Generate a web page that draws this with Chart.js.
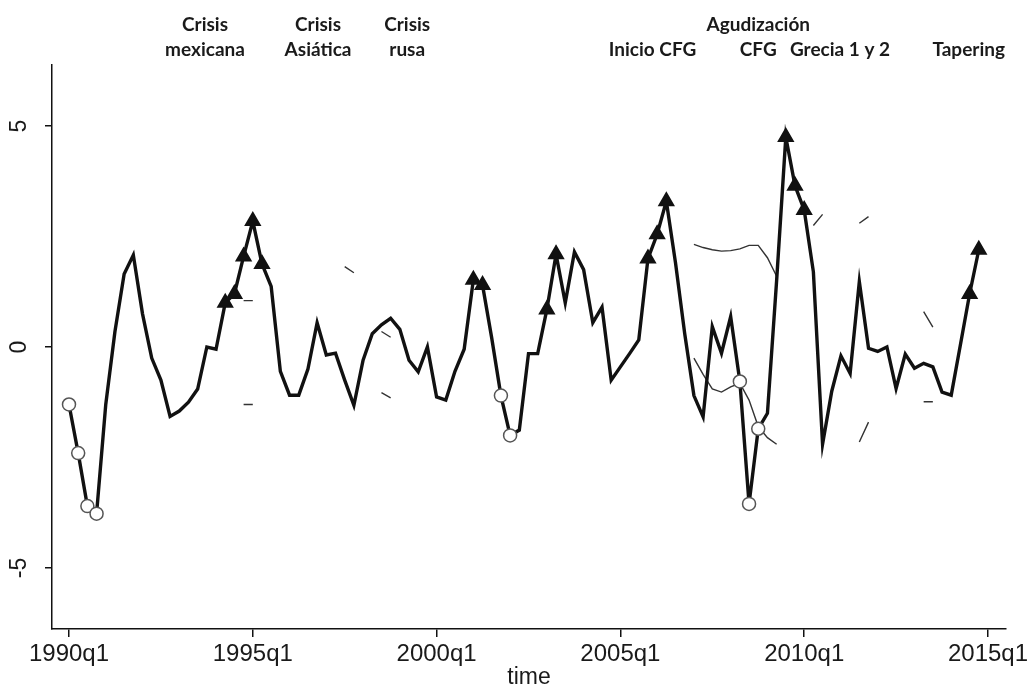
<!DOCTYPE html>
<html><head><meta charset="utf-8">
<script src="https://cdn.jsdelivr.net/npm/chart.js@4.4.1/dist/chart.umd.min.js"></script>
<style>html,body{margin:0;padding:0;background:#fff;}#wrap{width:1035px;height:688px;position:relative;}</style>
</head><body><div id="wrap"><canvas id="c" width="1035" height="688"></canvas></div>
<script>
// quarterly index: 0 = 1990q1
const values = [
 -1.3, -2.4, -3.6, -3.77, -1.3, 0.35, 1.65, 2.08, 0.75, -0.25,
 -0.75, -1.57, -1.45, -1.25, -0.95, 0.0, -0.05, 1.0, 1.2, 2.05,
 2.85, 1.88, 1.37, -0.55, -1.09, -1.09, -0.5, 0.55, -0.18, -0.14,
 -0.75, -1.32, -0.3, 0.3, 0.5, 0.65, 0.4, -0.3, -0.56, 0.0,
 -1.13, -1.2, -0.55, -0.05, 1.52, 1.4, 0.2, -1.1, -2.0, -1.88,
 -0.15, -0.15, 0.85, 2.1, 1.0, 2.15, 1.75, 0.55, 0.9, -0.75,
 -0.45, -0.15, 0.16, 2.0, 2.55, 3.3, 1.9, 0.3, -1.1, -1.58,
 0.46, -0.14, 0.69, -0.78, -3.55, -1.85, -1.5, 1.5, 4.75, 3.65,
 3.1, 1.7, -2.2, -1.0, -0.2, -0.6, 1.48, -0.03, -0.1, 0.0,
 -0.94, -0.16, -0.48, -0.37, -0.45, -1.02, -1.09, 0.05, 1.2, 2.2
];
const triangleIdx = [17,18,19,20,21,44,45,52,53,63,64,65,78,79,80,98,99];
const circleIdx = [0,1,2,3,47,48,73,74,75];
// visible fragments of the band lines: [start quarter index, values...]
const upperBandPieces = [
 [19, 1.05, 1.05],
 [30, 1.82, 1.68],
 [34, 0.35, 0.22],
 [68, 2.32, 2.25, 2.2, 2.17, 2.18, 2.22, 2.3, 2.3, 2.02, 1.6],
 [81, 2.75, 3.0],
 [86, 2.8, 2.95],
 [93, 0.8, 0.45]
];
const lowerBandPieces = [
 [19, -1.3, -1.3],
 [34, -1.03, -1.15],
 [68, -0.25, -0.62, -0.95, -1.02, -0.9, -0.82, -1.2, -1.8, -2.05, -2.2],
 [86, -2.15, -1.7],
 [93, -1.24, -1.24]
];
const xTickPos = [0, 20, 40, 60, 80, 100];
const xTickLabels = ['1990q1','1995q1','2000q1','2005q1','2010q1','2015q1'];
const yTickValues = [-5, 0, 5];
const yTickLabels = ['-5', '0', '5'];
const xAxisTitle = 'time';
const eventPos = [14.8, 27.1, 36.8, 63.5, 75, 83.9, 97.9];
const eventTop = ['Crisis', 'Crisis', 'Crisis', '', 'Agudización', '', ''];
const eventBottom = ['mexicana', 'Asiática', 'rusa', 'Inicio CFG', 'CFG', 'Grecia 1 y 2', 'Tapering'];

function piecesToPoints(pieces){
  const pts = [];
  pieces.forEach(p => {
    const s = p[0];
    for (let k = 1; k < p.length; k++) pts.push({x: s + k - 1, y: p[k]});
    pts.push({x: s + p.length - 1.5, y: null});
  });
  return pts;
}
const mainPts = values.map((v, i) => ({x: i, y: v}));
const triPts = triangleIdx.map(i => ({x: i, y: values[i]}));
const cirPts = circleIdx.map(i => ({x: i, y: values[i]}));

const annot = {
  id: 'annot',
  afterDraw(chart){
    const {ctx, scales: {x, y}, chartArea} = chart;
    ctx.save();
    ctx.fillStyle = '#1a1a1a';
    ctx.textAlign = 'center';
    ctx.textBaseline = 'middle';
    ctx.font = '23px "Liberation Sans", Arial, sans-serif';
    yTickValues.forEach((v, i) => {
      const py = y.getPixelForValue(v);
      ctx.save(); ctx.translate(20, py); ctx.rotate(-Math.PI / 2);
      ctx.fillText(yTickLabels[i], 0, 0); ctx.restore();
    });
    ctx.fillText(xAxisTitle, (chartArea.left + chartArea.right) / 2, 678);
    ctx.font = 'bold 19px Lato, "Open Sans", sans-serif';
    eventPos.forEach((p, i) => {
      const px = x.getPixelForValue(p);
      if (eventTop[i]) ctx.fillText(eventTop[i], px, 25);
      ctx.fillText(eventBottom[i], px, 50);
    });
    ctx.restore();
  }
};

new Chart(document.getElementById('c'), {
  type: 'line',
  data: {
    datasets: [
      { data: triPts, showLine: false, pointStyle: 'triangle', pointRadius: 8, pointBorderWidth: 2,
        pointBackgroundColor: '#111', pointBorderColor: '#111', order: 0 },
      { data: cirPts, showLine: false, pointStyle: 'circle', pointRadius: 6.5, pointBorderWidth: 1.5,
        pointBackgroundColor: '#fff', pointBorderColor: '#555', order: 1 },
      { data: mainPts, borderColor: '#111', borderWidth: 3.4, pointRadius: 0, tension: 0, order: 2 },
      { data: piecesToPoints(upperBandPieces), borderColor: '#333', borderWidth: 1.4, pointRadius: 0, spanGaps: false, order: 3 },
      { data: piecesToPoints(lowerBandPieces), borderColor: '#333', borderWidth: 1.4, pointRadius: 0, spanGaps: false, order: 4 }
    ]
  },
  options: {
    responsive: false,
    animation: false,
    events: [],
    layout: { padding: { top: 65, right: 29, left: 0, bottom: 0 } },
    plugins: { legend: { display: false }, tooltip: { enabled: false } },
    scales: {
      x: {
        type: 'linear', min: -1.85, max: 101.96,
        afterBuildTicks: s => { s.ticks = xTickPos.map(v => ({value: v})); },
        afterFit: s => { s.height = 59; },
        ticks: { autoSkip: false, maxRotation: 0, minRotation: 0, padding: 3, color: '#1a1a1a',
          font: { family: '"Liberation Sans", Arial, sans-serif', size: 24 },
          callback: (v, i) => xTickLabels[i] },
        grid: { drawOnChartArea: false, drawTicks: true, tickLength: 8, color: '#111', lineWidth: 1.5 },
        border: { display: true, color: '#111', width: 1.5 }
      },
      y: {
        type: 'linear', min: -6.38, max: 6.38,
        afterBuildTicks: s => { s.ticks = yTickValues.map(v => ({value: v})); },
        afterFit: s => { s.width = 52; },
        ticks: { display: false },
        grid: { drawOnChartArea: false, drawTicks: true, tickLength: 7, color: '#111', lineWidth: 1.5 },
        border: { display: true, color: '#111', width: 1.5 }
      }
    }
  },
  plugins: [annot]
});
</script></body></html>
